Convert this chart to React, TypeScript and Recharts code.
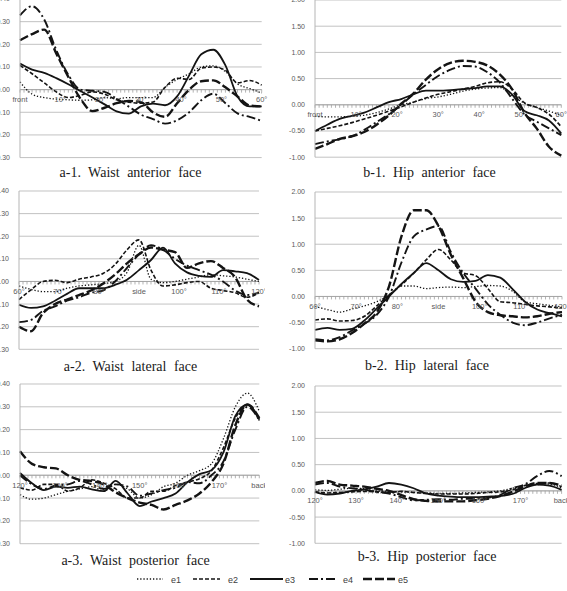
import React from 'react';
import { LineChart, Line, XAxis, YAxis, CartesianGrid, ReferenceLine, ReferenceDot } from 'recharts';

// Sampling step (degrees) of every series; each panel covers 60 degrees.
const STEP = 3;

const SERIES_NAMES = ['e1', 'e2', 'e3', 'e4', 'e5'];

const anteriorLabels = ['front', '10°', '20°', '30°', '40°', '50°', '60°'];
const lateralLabels = ['60°', '70°', '80°', 'side', '100°', '110°', '120°'];
const posteriorLabels = ['120°', '130°', '140°', '150°', '160°', '170°', 'back'];

const waistTicks = [-0.3, -0.2, -0.1, 0, 0.1, 0.2, 0.3, 0.4];
const hipTicks = [-1, -0.5, 0, 0.5, 1, 1.5, 2];

// a-1 Waist anterior face (0°..60°)
const waistAntE1 = [0.034, -0.02, -0.035, -0.042, -0.045, -0.047, -0.045, -0.035, -0.04, -0.035, -0.035, -0.035, 0.01, 0.045, 0.07, 0.1, 0.105, 0.08, 0.025, 0.005, -0.015];
const waistAntE2 = [0.107, 0.07, 0.03, -0.01, -0.035, -0.025, -0.01, -0.02, -0.045, -0.055, -0.06, -0.055, 0.01, 0.05, 0.045, 0.095, 0.1, 0.085, 0.03, 0.04, 0.02];
const waistAntE3 = [0.115, 0.088, 0.074, 0.051, 0.024, -0.006, -0.035, -0.065, -0.096, -0.106, -0.074, -0.062, -0.069, -0.03, 0.063, 0.156, 0.176, 0.107, -0.03, -0.074, -0.074];
const waistAntE4 = [0.328, 0.368, 0.31, 0.175, 0.065, 0.0, -0.005, -0.01, -0.04, -0.075, -0.11, -0.13, -0.15, -0.135, -0.1, -0.047, -0.018, -0.06, -0.105, -0.12, -0.138];
const waistAntE5 = [0.218, 0.245, 0.265, 0.16, 0.056, -0.04, -0.095, -0.08, -0.06, -0.05, -0.055, -0.1, -0.12, -0.06, 0.0, 0.037, 0.041, 0.01, -0.03, -0.07, -0.074];

// b-1 Hip anterior face (0°..60°)
const hipAntE1 = [-0.22, -0.23, -0.23, -0.22, -0.2, -0.15, -0.08, 0.0, 0.05, 0.12, 0.15, 0.2, 0.26, 0.3, 0.32, 0.33, 0.18, 0.03, -0.05, -0.12, -0.2];
const hipAntE2 = [-0.5, -0.45, -0.4, -0.34, -0.27, -0.2, -0.12, -0.04, 0.05, 0.13, 0.2, 0.25, 0.3, 0.35, 0.42, 0.44, 0.3, 0.04, -0.05, -0.18, -0.42];
const hipAntE3 = [-0.5, -0.38, -0.27, -0.21, -0.15, -0.05, 0.05, 0.11, 0.2, 0.27, 0.27, 0.28, 0.3, 0.32, 0.35, 0.35, 0.2, -0.12, -0.2, -0.3, -0.55];
const hipAntE4 = [-0.75, -0.7, -0.66, -0.6, -0.48, -0.33, -0.18, 0.0, 0.2, 0.38, 0.55, 0.67, 0.74, 0.73, 0.62, 0.43, 0.12, -0.18, -0.32, -0.45, -0.58];
const hipAntE5 = [-0.84, -0.75, -0.65, -0.6, -0.52, -0.38, -0.2, 0.02, 0.22, 0.48, 0.68, 0.8, 0.84, 0.82, 0.75, 0.58, 0.3, -0.15, -0.45, -0.8, -0.97];

// a-2 Waist lateral face (60°..120°)
const waistLatE1 = [-0.02, -0.035, -0.045, -0.045, -0.03, -0.02, -0.015, -0.01, 0.0, 0.04, 0.16, 0.01, -0.005, 0.0, 0.01, 0.02, 0.03, 0.025, 0.02, 0.01, 0.0];
const waistLatE2 = [-0.08, -0.037, 0.0, 0.005, -0.005, 0.01, 0.02, 0.035, 0.075, 0.14, 0.184, 0.05, -0.02, -0.015, -0.005, 0.0, -0.03, -0.04, -0.05, -0.07, -0.05];
const waistLatE3 = [-0.103, -0.117, -0.11, -0.085, -0.055, -0.03, -0.03, -0.03, -0.015, 0.008, 0.05, 0.095, 0.15, 0.08, 0.04, 0.025, 0.02, 0.05, 0.045, 0.037, 0.007];
const waistLatE4 = [-0.18, -0.17, -0.13, -0.11, -0.085, -0.07, -0.05, -0.04, 0.0, 0.06, 0.12, 0.16, 0.14, 0.1, 0.07, 0.05, 0.03, 0.0, -0.04, -0.06, -0.05];
const waistLatE5 = [-0.2, -0.22, -0.14, -0.1, -0.08, -0.06, -0.04, -0.01, 0.03, 0.08, 0.12, 0.15, 0.14, 0.13, 0.06, 0.08, 0.09, 0.06, 0.02, -0.08, -0.11];

// b-2 Hip lateral face (60°..120°)
const hipLatE1 = [-0.19, -0.25, -0.3, -0.24, -0.18, -0.1, 0.03, 0.2, 0.2, 0.15, 0.17, 0.18, 0.17, 0.19, 0.21, 0.2, 0.1, -0.1, -0.14, -0.17, -0.2];
const hipLatE2 = [-0.45, -0.43, -0.47, -0.46, -0.38, -0.18, 0.03, 0.22, 0.45, 0.7, 0.9, 0.7, 0.45, 0.4, 0.15, -0.1, -0.12, -0.15, -0.18, -0.2, -0.22];
const hipLatE3 = [-0.64, -0.6, -0.64, -0.62, -0.46, -0.23, 0.0, 0.24, 0.45, 0.64, 0.5, 0.33, 0.28, 0.3, 0.41, 0.36, 0.14, -0.1, -0.25, -0.32, -0.38];
const hipLatE4 = [-0.82, -0.84, -0.78, -0.65, -0.52, -0.35, 0.0, 0.65, 1.15, 1.28, 1.35, 0.85, 0.45, 0.15, -0.15, -0.35, -0.5, -0.55, -0.5, -0.42, -0.35];
const hipLatE5 = [-0.84, -0.86, -0.82, -0.7, -0.52, -0.3, 0.2, 1.15, 1.65, 1.65, 1.35, 0.8, 0.35, -0.1, -0.3, -0.36, -0.38, -0.4, -0.38, -0.33, -0.3];

// a-3 Waist posterior face (120°..back)
const waistPostE1 = [-0.085, -0.105, -0.1, -0.085, -0.07, -0.06, -0.05, -0.07, -0.04, -0.06, -0.1, -0.085, -0.05, -0.035, 0.0, 0.02, 0.05, 0.16, 0.3, 0.36, 0.28];
const waistPostE2 = [-0.055, -0.065, -0.04, -0.04, -0.07, -0.055, -0.02, -0.035, -0.06, -0.1, -0.1, -0.07, -0.07, -0.045, -0.03, -0.015, 0.02, 0.12, 0.25, 0.31, 0.24];
const waistPostE3 = [0.01, -0.035, -0.065, -0.05, -0.055, -0.05, -0.062, -0.07, -0.025, -0.08, -0.135, -0.115, -0.1, -0.08, -0.03, 0.005, 0.022, 0.1, 0.26, 0.31, 0.245];
const waistPostE4 = [0.0, -0.04, -0.06, -0.045, -0.04, -0.025, -0.04, -0.06, -0.04, -0.05, -0.09, -0.08, -0.065, -0.055, -0.03, -0.035, 0.0, 0.06, 0.2, 0.3, 0.24];
const waistPostE5 = [0.105, 0.05, 0.035, 0.03, 0.0, -0.02, -0.025, -0.04, -0.075, -0.1, -0.12, -0.13, -0.15, -0.13, -0.11, -0.08, -0.03, 0.05, 0.22, 0.31, 0.25];

// b-3 Hip posterior face (120°..back)
const hipPostE1 = [0.02, 0.01, 0.03, 0.05, 0.04, 0.0, -0.01, -0.02, -0.03, -0.04, -0.05, -0.05, -0.04, -0.03, -0.02, 0.0, 0.05, 0.1, 0.12, 0.13, 0.05];
const hipPostE2 = [-0.02, -0.04, -0.03, -0.02, -0.01, -0.02, -0.03, -0.01, -0.03, -0.05, -0.06, -0.06, -0.06, -0.05, -0.03, -0.02, 0.02, 0.1, 0.14, 0.15, 0.08];
const hipPostE3 = [-0.02, -0.07, -0.05, 0.0, 0.03, 0.08, 0.15, 0.12, 0.05, -0.05, -0.09, -0.11, -0.12, -0.12, -0.11, -0.1, -0.06, 0.05, 0.12, 0.1, 0.02];
const hipPostE4 = [0.12, 0.15, 0.08, 0.05, 0.02, -0.02, -0.05, -0.12, -0.18, -0.17, -0.16, -0.17, -0.15, -0.15, -0.13, -0.08, 0.05, 0.12, 0.28, 0.38, 0.28];
const hipPostE5 = [0.15, 0.19, 0.12, 0.1, 0.08, 0.04, 0.0, -0.08, -0.16, -0.19, -0.2, -0.2, -0.2, -0.18, -0.15, -0.1, -0.02, 0.08, 0.15, 0.15, 0.1];

// Stroke pattern of each series (shared by all panels and the legend).
const LINE_STYLE: Record<string, { width: number; dash?: string }> = {
  e1: { width: 1.3, dash: '1.3 1.9' },
  e2: { width: 1.6, dash: '4 2' },
  e3: { width: 1.8 },
  e4: { width: 1.9, dash: '9 3 2 3' },
  e5: { width: 2.4, dash: '9 3' },
};

const INK = '#141414';
const GRID = '#c2c2c2';
const TICK_TEXT = '#5a5a5a';
const SANS = 'Liberation Sans, Arial, sans-serif';

type PanelSpec = {
  id: string;
  title: string;
  plot: { left: number; top: number; width: number; height: number };
  start: number;
  ticks: number[];
  labels: string[];
  series: number[][];
  titleAt: { x: number; y: number };
};

const PANELS: PanelSpec[] = [
  { id: 'a1', title: 'a-1. Waist anterior face', plot: { left: 20, top: -1.3, width: 241.7, height: 158.6 }, start: 0, ticks: waistTicks, labels: anteriorLabels, series: [waistAntE1, waistAntE2, waistAntE3, waistAntE4, waistAntE5], titleAt: { x: 130.5, y: 177 } },
  { id: 'b1', title: 'b-1. Hip anterior face', plot: { left: 314.7, top: 0.1, width: 246.3, height: 157.2 }, start: 0, ticks: hipTicks, labels: anteriorLabels, series: [hipAntE1, hipAntE2, hipAntE3, hipAntE4, hipAntE5], titleAt: { x: 429.5, y: 177 } },
  { id: 'a2', title: 'a-2. Waist lateral face', plot: { left: 19.3, top: 191, width: 240, height: 158.3 }, start: 60, ticks: waistTicks, labels: lateralLabels, series: [waistLatE1, waistLatE2, waistLatE3, waistLatE4, waistLatE5], titleAt: { x: 130.5, y: 371 } },
  { id: 'b2', title: 'b-2. Hip lateral face', plot: { left: 315.3, top: 192.3, width: 247, height: 156.7 }, start: 60, ticks: hipTicks, labels: lateralLabels, series: [hipLatE1, hipLatE2, hipLatE3, hipLatE4, hipLatE5], titleAt: { x: 427, y: 370 } },
  { id: 'a3', title: 'a-3. Waist posterior face', plot: { left: 20, top: 384.3, width: 239.3, height: 159.7 }, start: 120, ticks: waistTicks, labels: posteriorLabels, series: [waistPostE1, waistPostE2, waistPostE3, waistPostE4, waistPostE5], titleAt: { x: 135.5, y: 565 } },
  { id: 'b3', title: 'b-3. Hip posterior face', plot: { left: 314.7, top: 386, width: 246.6, height: 157.3 }, start: 120, ticks: hipTicks, labels: posteriorLabels, series: [hipPostE1, hipPostE2, hipPostE3, hipPostE4, hipPostE5], titleAt: { x: 427, y: 561 } },
];

const Y_AXIS_W = 40;
const M_TOP = 8;
const M_BOTTOM = 4;
const M_RIGHT = 6;

// Category label hung just under the zero line.
function ZeroAxisLabel(props: any) {
  const { viewBox, text } = props;
  if (!viewBox) return null;
  return (
    <text
      x={viewBox.x + (viewBox.width || 0) / 2}
      y={viewBox.y + (viewBox.height || 0) + 12.5}
      textAnchor="middle"
      fontSize={7.5}
      fill={TICK_TEXT}
      fontFamily={SANS}
    >
      {text}
    </text>
  );
}

function Panel({ spec }: { spec: PanelSpec }) {
  const { plot, start, ticks, labels, series } = spec;
  const yMin = ticks[0];
  const yMax = ticks[ticks.length - 1];
  const tickLen = (yMax - yMin) * 0.019;
  const rows = series[0].map((_, i) => {
    const row: Record<string, number> = { x: start + i * STEP };
    SERIES_NAMES.forEach((name, s) => {
      row[name] = series[s][i];
    });
    return row;
  });
  const minorTicks = Array.from({ length: 61 }, (_, d) => start + d);

  return (
    <div style={{ position: 'absolute', left: plot.left - Y_AXIS_W, top: plot.top - M_TOP }}>
      <LineChart
        width={plot.width + Y_AXIS_W + M_RIGHT}
        height={plot.height + M_TOP + M_BOTTOM}
        data={rows}
        margin={{ top: M_TOP, right: M_RIGHT, bottom: M_BOTTOM, left: 0 }}
      >
        <CartesianGrid vertical={false} stroke={GRID} strokeWidth={1} />
        <XAxis dataKey="x" type="number" domain={[start, start + 60]} hide />
        <YAxis
          width={Y_AXIS_W}
          domain={[yMin, yMax]}
          ticks={ticks}
          interval={0}
          tickFormatter={(v: number) => v.toFixed(2)}
          tickLine={false}
          tickSize={6}
          tickMargin={4}
          axisLine={{ stroke: '#b5b5b5' }}
          tick={{ fontSize: 7, fill: TICK_TEXT, fontFamily: SANS }}
        />
        <ReferenceLine y={0} stroke="#a8a8a8" strokeWidth={1} />
        {minorTicks.map((d) => (
          <ReferenceLine
            key={`t${d}`}
            segment={[{ x: d, y: 0 }, { x: d, y: -tickLen }]}
            stroke="#a0a0a0"
            strokeWidth={0.8}
          />
        ))}
        {labels.map((lab, i) => (
          <ReferenceDot
            key={`l${i}`}
            x={start + i * 10}
            y={0}
            r={0}
            fill="none"
            stroke="none"
            label={<ZeroAxisLabel text={lab} />}
          />
        ))}
        {SERIES_NAMES.map((name) => (
          <Line
            key={name}
            type="monotone"
            dataKey={name}
            stroke={INK}
            strokeWidth={LINE_STYLE[name].width}
            strokeDasharray={LINE_STYLE[name].dash}
            dot={false}
            activeDot={false}
            isAnimationActive={false}
          />
        ))}
      </LineChart>
    </div>
  );
}

// Legend glyph placement along the bottom row.
const LEGEND_LAYOUT = [
  { x1: 137, x2: 163, tx: 171 },
  { x1: 193, x2: 220, tx: 228 },
  { x1: 250, x2: 283, tx: 285 },
  { x1: 309, x2: 337, tx: 343 },
  { x1: 363, x2: 395, tx: 398 },
];

export default function App() {
  return (
    <div style={{ position: 'absolute', left: 0, top: 0, width: 567, height: 591, overflow: 'hidden', background: '#fff' }}>
      {PANELS.map((p) => (
        <Panel key={p.id} spec={p} />
      ))}
      <svg width={567} height={591} style={{ position: 'absolute', left: 0, top: 0, pointerEvents: 'none' }}>
        {PANELS.map((p) => (
          <text
            key={p.id}
            x={p.titleAt.x}
            y={p.titleAt.y}
            textAnchor="middle"
            fontFamily="Liberation Serif, 'Times New Roman', serif"
            fontSize={14}
            fill="#1a1a1a"
            style={{ wordSpacing: 4 }}
          >
            {p.title}
          </text>
        ))}
        {SERIES_NAMES.map((name, i) => {
          const g = LEGEND_LAYOUT[i];
          return (
            <g key={name}>
              <line
                x1={g.x1}
                x2={g.x2}
                y1={579}
                y2={579}
                stroke={INK}
                strokeWidth={LINE_STYLE[name].width}
                strokeDasharray={LINE_STYLE[name].dash}
              />
              <text x={g.tx} y={582.5} fontSize={9} fill="#404040" fontFamily={SANS}>
                {name}
              </text>
            </g>
          );
        })}
      </svg>
    </div>
  );
}
